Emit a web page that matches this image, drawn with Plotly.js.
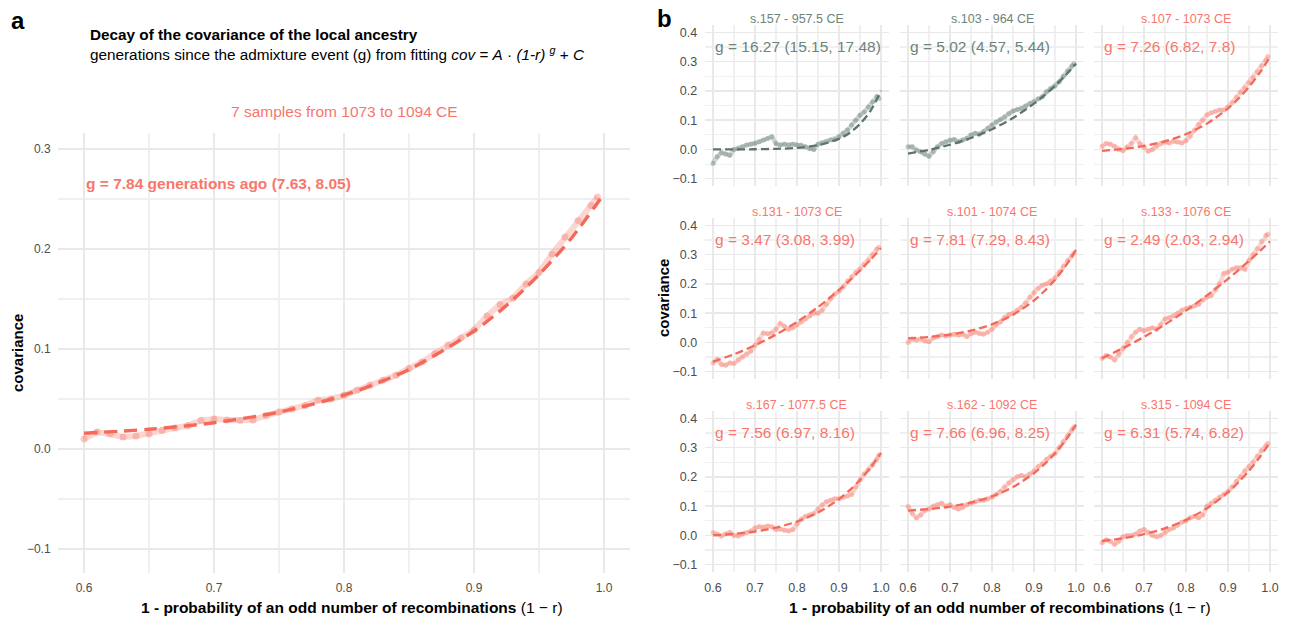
<!DOCTYPE html>
<html>
<head>
<meta charset="utf-8">
<script src="https://cdn.plot.ly/plotly-3.0.1.min.js"></script>
<style>
  html, body { margin: 0; padding: 0; background: #ffffff; }
  #chart { width: 1295px; height: 617px; }
</style>
</head>
<body>
<div id="chart"></div>
<script>
// ---- data ---------------------------------------------------------------
// x positions (1 - r) of the observed covariance points
const obsX = [0.60,0.61,0.62,0.63,0.64,0.65,0.66,0.67,0.68,0.69,
              0.70,0.71,0.72,0.73,0.74,0.75,0.76,0.77,0.78,0.79,
              0.80,0.81,0.82,0.83,0.84,0.85,0.86,0.87,0.88,0.89,
              0.90,0.91,0.92,0.93,0.94,0.95,0.96,0.97,0.98,0.99,0.995];
// x positions of the fitted curve
const fitX = [0.60,0.65,0.70,0.75,0.80,0.85,0.90,0.925,0.95,0.975,1.00];

// pooled group (7 samples, 1073-1094 CE)
const pooledObs = [0.010,0.017,0.015,0.012,0.013,0.015,0.0185,0.021,0.0235,0.0285,
                   0.030,0.029,0.0285,0.029,0.0335,0.037,0.040,0.0436,0.0487,0.050,
                   0.0537,0.0587,0.0638,0.0688,0.0738,0.0805,0.087,0.0956,0.104,0.111,
                   0.119,0.133,0.1446,0.151,0.165,0.1765,0.195,0.212,0.2285,0.2436,0.252];
const pooledFit = [0.0158,0.0197,0.0263,0.0369,0.0538,0.0795,0.118,0.1436,0.1744,0.211,0.255];
const pooledLabel = "g = 7.84 generations ago (7.63, 8.05)";
const pooledSubtitle = "7 samples from 1073 to 1094 CE";

// individual samples
const sampleNames = ["s.157 - 957.5 CE","s.103 - 964 CE","s.107 - 1073 CE",
                     "s.131 - 1073 CE","s.101 - 1074 CE","s.133 - 1076 CE",
                     "s.167 - 1077.5 CE","s.162 - 1092 CE","s.315 - 1094 CE"];
const sampleG = ["g = 16.27 (15.15, 17.48)","g = 5.02 (4.57, 5.44)","g = 7.26 (6.82, 7.8)",
                 "g = 3.47 (3.08, 3.99)","g = 7.81 (7.29, 8.43)","g = 2.49 (2.03, 2.94)",
                 "g = 7.56 (6.97, 8.16)","g = 7.66 (6.96, 8.25)","g = 6.31 (5.74, 6.82)"];
// early samples (before the pooled period) are drawn in grey-green
const sampleGroup = ["early","early","late","late","late","late","late","late","late"];

const obs157 = [-0.048,-0.025,-0.011,-0.016,-0.02,0.0,0.003,0.009,0.015,0.018,
                0.02,0.026,0.032,0.0375,0.043,0.02,0.015,0.018,0.015,0.018,
                0.015,0.015,0.009,0.003,0.0,0.018,0.023,0.026,0.032,0.034,
                0.043,0.055,0.066,0.083,0.1,0.117,0.128,0.145,0.162,0.18,0.174];
const obs103 = [0.009,0.009,-0.002,-0.008,-0.016,-0.023,-0.008,0.009,0.02,0.026,
                0.032,0.034,0.026,0.032,0.0375,0.049,0.055,0.052,0.06,0.072,
                0.083,0.094,0.102,0.111,0.123,0.131,0.136,0.14,0.148,0.157,
                0.163,0.173,0.18,0.197,0.208,0.216,0.231,0.25,0.268,0.284,0.293];
const obs107 = [0.01,0.02,0.018,0.01,0.0,-0.004,0.008,0.02,0.04,0.02,
                0.008,-0.006,0.0,0.012,0.02,0.025,0.022,0.028,0.025,0.022,
                0.03,0.045,0.065,0.085,0.1,0.118,0.125,0.13,0.135,0.135,
                0.145,0.16,0.178,0.195,0.21,0.228,0.245,0.265,0.285,0.305,0.318];
const obs131 = [-0.07,-0.058,-0.075,-0.078,-0.07,-0.072,-0.06,-0.05,-0.04,-0.03,
                -0.01,0.01,0.032,0.03,0.032,0.045,0.065,0.055,0.045,0.05,
                0.06,0.07,0.08,0.09,0.1,0.1,0.11,0.13,0.15,0.165,
                0.175,0.19,0.21,0.225,0.24,0.25,0.265,0.28,0.3,0.318,0.325];
const obs101 = [0.0,0.012,0.008,0.012,0.005,0.002,0.015,0.02,0.025,0.022,
                0.025,0.028,0.025,0.028,0.02,0.03,0.035,0.03,0.028,0.035,
                0.045,0.06,0.07,0.085,0.095,0.1,0.11,0.12,0.135,0.155,
                0.17,0.185,0.195,0.2,0.21,0.22,0.24,0.26,0.28,0.295,0.305];
const obs133 = [-0.055,-0.045,-0.05,-0.06,-0.04,-0.02,0.0,0.02,0.035,0.045,
                0.04,0.045,0.05,0.045,0.06,0.08,0.085,0.09,0.1,0.11,
                0.115,0.12,0.125,0.13,0.145,0.155,0.16,0.18,0.2,0.235,
                0.24,0.25,0.255,0.255,0.25,0.28,0.3,0.32,0.345,0.365,0.37];
const obs167 = [0.01,0.005,-0.002,0.005,0.01,0.0,-0.002,0.005,0.01,0.015,
                0.025,0.03,0.028,0.032,0.03,0.02,0.022,0.018,0.015,0.02,
                0.04,0.055,0.065,0.07,0.075,0.09,0.105,0.115,0.12,0.125,
                0.125,0.13,0.135,0.14,0.165,0.19,0.21,0.225,0.24,0.26,0.275];
const obs162 = [0.1,0.075,0.06,0.07,0.085,0.09,0.1,0.105,0.11,0.1,
                0.105,0.095,0.09,0.095,0.105,0.11,0.115,0.12,0.12,0.125,
                0.13,0.14,0.15,0.165,0.18,0.19,0.2,0.205,0.2,0.21,
                0.22,0.235,0.245,0.26,0.27,0.28,0.3,0.32,0.34,0.36,0.37];
const obs315 = [-0.025,-0.015,-0.02,-0.03,-0.02,-0.005,0.0,0.0,0.005,0.015,
                0.02,0.01,0.0,-0.005,0.0,0.01,0.02,0.025,0.035,0.045,
                0.05,0.06,0.065,0.06,0.07,0.1,0.11,0.12,0.13,0.14,
                0.15,0.165,0.185,0.2,0.22,0.235,0.25,0.27,0.29,0.305,0.315];

const fit157 = [0.0,0.0002,0.0006,0.0019,0.0053,0.0142,0.036,0.056,0.087,0.132,0.2];
const fit103 = [-0.014,-0.0013,0.0159,0.0389,0.069,0.1075,0.1564,0.1853,0.2175,0.2533,0.293];
const fit107 = [-0.005,0.0014,0.0117,0.0278,0.052,0.0881,0.1401,0.1738,0.2137,0.2608,0.316];
const fit131 = [-0.066,-0.0406,-0.0099,0.0268,0.07,0.1205,0.1789,0.2112,0.2458,0.2827,0.322];
const fit101 = [0.0135,0.0185,0.0268,0.0404,0.0617,0.0944,0.1431,0.1755,0.2143,0.2607,0.316];
const fit133 = [-0.054,-0.0197,0.0187,0.0614,0.1086,0.1605,0.2171,0.2472,0.2785,0.3111,0.345];
const fit167 = [0.0,0.0051,0.0134,0.0267,0.0473,0.0783,0.1239,0.1538,0.1894,0.2318,0.282];
const fit162 = [0.085,0.09,0.0985,0.112,0.1331,0.1651,0.2124,0.2435,0.2809,0.3253,0.378];
const fit315 = [-0.019,-0.0098,0.004,0.0241,0.0529,0.0929,0.1476,0.1816,0.221,0.2662,0.318];

const sampleObs = [obs157, obs103, obs107, obs131, obs101, obs133, obs167, obs162, obs315];
const sampleFit = [fit157, fit103, fit107, fit131, fit101, fit133, fit167, fit162, fit315];

const xTicks = [0.6, 0.7, 0.8, 0.9, 1.0];
const xTickText = ["0.6","0.7","0.8","0.9","1.0"];
const xMinor = [0.65, 0.75, 0.85, 0.95];
const yTicksA = [-0.1, 0.0, 0.1, 0.2, 0.3];
const yTickTextA = ["\u22120.1","0.0","0.1","0.2","0.3"];
const yMinorA = [-0.05, 0.05, 0.15, 0.25];
const yTicksB = [-0.1, 0.0, 0.1, 0.2, 0.3, 0.4];
const yTickTextB = ["\u22120.1","0.0","0.1","0.2","0.3","0.4"];
const yMinorB = [-0.05, 0.05, 0.15, 0.25, 0.35];

// ---- styling --------------------------------------------------------------
const W = 1295, H = 617;
const FONT = "Liberation Sans, Arial, Helvetica, sans-serif";
const COLORS = {
  late:  { text: "#F8766D", line: "#F4695A", pt: "rgba(247,125,112,0.40)", band: "rgba(248,150,138,0.38)" },
  early: { text: "#6C8479", line: "#5E7369", pt: "rgba(108,132,121,0.42)", band: "rgba(130,150,141,0.38)" }
};
const TICK_COLOR = "#4D4D4D";
const GRID = "#E9E9E9";
const GRID_MINOR = "#F0F0F0";

const px = p => p / W;
const py = p => 1 - p / H;

function axisBase(minorVals, tickSize, extra) {
  return Object.assign({
    showline: false, zeroline: false, showgrid: true,
    gridcolor: GRID, gridwidth: 1.5,
    ticks: "outside", ticklen: 4, tickcolor: "rgba(0,0,0,0)",
    tickfont: { family: FONT, size: tickSize, color: TICK_COLOR },
    minor: { tickmode: "array", tickvals: minorVals, showgrid: true,
             gridcolor: GRID_MINOR, gridwidth: 1.1, ticks: "" },
    fixedrange: true
  }, extra);
}

const traces = [];
const layout = {
  width: W, height: H,
  margin: { l: 0, r: 0, t: 0, b: 0 },
  paper_bgcolor: "#ffffff", plot_bgcolor: "#ffffff",
  showlegend: false,
  font: { family: FONT },
  annotations: []
};

function addSeries(xa, ya, obs, fit, col, lineW, bandW, dash, markerSize) {
  traces.push({
    type: "scatter", mode: "lines+markers", x: obsX, y: obs,
    xaxis: xa, yaxis: ya, hoverinfo: "skip",
    line: { color: col.band, width: bandW, shape: "linear" },
    marker: { color: col.pt, size: markerSize }
  });
  traces.push({
    type: "scatter", mode: "lines", x: fitX, y: fit,
    xaxis: xa, yaxis: ya, hoverinfo: "skip",
    line: { color: col.line, width: lineW, dash: dash, shape: "spline", smoothing: 0.8 }
  });
}

// ---- panel a: pooled samples ------------------------------------------------
// 130 px per 0.1 horizontally, 100 px per 0.1 vertically (grid on whole pixels)
const aLeft = 58, aRight = 630, aTop = 133, aBottom = 573;
layout.xaxis = axisBase(xMinor, 12, {
  domain: [px(aLeft), px(aRight)], range: [0.58, 1.02],
  tickmode: "array", tickvals: xTicks, ticktext: xTickText, anchor: "y"
});
layout.yaxis = axisBase(yMinorA, 12, {
  domain: [py(aBottom), py(aTop)], range: [-0.124, 0.316],
  tickmode: "array", tickvals: yTicksA, ticktext: yTickTextA, anchor: "x"
});
addSeries("x", "y", pooledObs, pooledFit, COLORS.late, 3.4, 6, "13px,7px", 7);

layout.annotations.push({
  xref: "x", yref: "y", x: 0.6, y: 0.266, xanchor: "left", yanchor: "middle",
  text: "<b>" + pooledLabel + "</b>", showarrow: false,
  font: { family: FONT, size: 15.5, color: COLORS.late.text }
});
layout.annotations.push({
  xref: "paper", yref: "paper", x: px((aLeft + aRight) / 2), y: py(111),
  xanchor: "center", yanchor: "middle", text: pooledSubtitle, showarrow: false,
  font: { family: FONT, size: 15.5, color: COLORS.late.text }
});

// ---- panel b: one facet per sample -----------------------------------------
// 42 px per 0.1 horizontally so that every vertical grid line sits on a pixel
const colLeft = [704.6, 899.6, 1093.6], facetW = 184.8;
const rowTop = [25, 218, 411], facetH = 161;
for (let k = 0; k < 9; k++) {
  const r = Math.floor(k / 3), c = k % 3;
  const n = k + 2;
  const xa = "x" + n, ya = "y" + n;
  const l = colLeft[c], t = rowTop[r];
  layout["xaxis" + n] = axisBase(xMinor, 12.5, {
    domain: [px(l), px(l + facetW)], range: [0.58, 1.02],
    tickmode: "array", tickvals: xTicks, ticktext: xTickText, anchor: ya,
    showticklabels: r === 2
  });
  layout["yaxis" + n] = axisBase(yMinorB, 12.5, {
    domain: [py(t + facetH), py(t)], range: [-0.125, 0.425],
    tickmode: "array", tickvals: yTicksB, ticktext: yTickTextB, anchor: xa,
    showticklabels: c === 0
  });
  const col = COLORS[sampleGroup[k]];
  addSeries(xa, ya, sampleObs[k], sampleFit[k], col, 2.3, 4.5, "8px,4px", 5);
  // strip label
  layout.annotations.push({
    xref: "paper", yref: "paper", x: px(l + facetW / 2), y: py(t - 6),
    xanchor: "center", yanchor: "middle", text: sampleNames[k], showarrow: false,
    font: { family: FONT, size: 12.5, color: col.text }
  });
  // fitted generations
  layout.annotations.push({
    xref: xa, yref: ya, x: 0.6, y: 0.35, xanchor: "left", yanchor: "middle",
    text: sampleG[k], showarrow: false,
    font: { family: FONT, size: 15.5, color: col.text }
  });
}

// ---- titles and axis labels -------------------------------------------------
const xTitle = "<b>1 - probability of an odd number of recombinations</b> (1 \u2212 r)";
layout.annotations.push(
  { xref: "paper", yref: "paper", x: px(18), y: py(20), xanchor: "center", yanchor: "middle",
    text: "<b>a</b>", showarrow: false, font: { family: FONT, size: 24, color: "#000" } },
  { xref: "paper", yref: "paper", x: px(664), y: py(18), xanchor: "center", yanchor: "middle",
    text: "<b>b</b>", showarrow: false, font: { family: FONT, size: 24, color: "#000" } },
  { xref: "paper", yref: "paper", x: px(88), y: py(35), xanchor: "left", yanchor: "middle",
    text: "<b>Decay of the covariance of the local ancestry</b>", showarrow: false,
    font: { family: FONT, size: 15.3, color: "#000" } },
  { xref: "paper", yref: "paper", x: px(88), y: py(54), xanchor: "left", yanchor: "middle",
    text: "generations since the admixture event (g) from fitting <i>cov</i> = <i>A</i> \u00b7 <i>(1-r)</i> <sup><i>g</i></sup> + <i>C</i>",
    showarrow: false, font: { family: FONT, size: 15.3, color: "#000" } },
  { xref: "paper", yref: "paper", x: px(17), y: py((aTop + aBottom) / 2), xanchor: "center", yanchor: "middle",
    text: "<b>covariance</b>", textangle: -90, showarrow: false,
    font: { family: FONT, size: 15, color: "#000" } },
  { xref: "paper", yref: "paper", x: px(664), y: py(298), xanchor: "center", yanchor: "middle",
    text: "<b>covariance</b>", textangle: -90, showarrow: false,
    font: { family: FONT, size: 15, color: "#000" } },
  { xref: "paper", yref: "paper", x: px(352), y: py(607), xanchor: "center", yanchor: "middle",
    text: xTitle, showarrow: false, font: { family: FONT, size: 15.5, color: "#000" } },
  { xref: "paper", yref: "paper", x: px(1000), y: py(607), xanchor: "center", yanchor: "middle",
    text: xTitle, showarrow: false, font: { family: FONT, size: 15.5, color: "#000" } }
);

Plotly.newPlot("chart", traces, layout, { staticPlot: true, displayModeBar: false });
</script>
</body>
</html>
